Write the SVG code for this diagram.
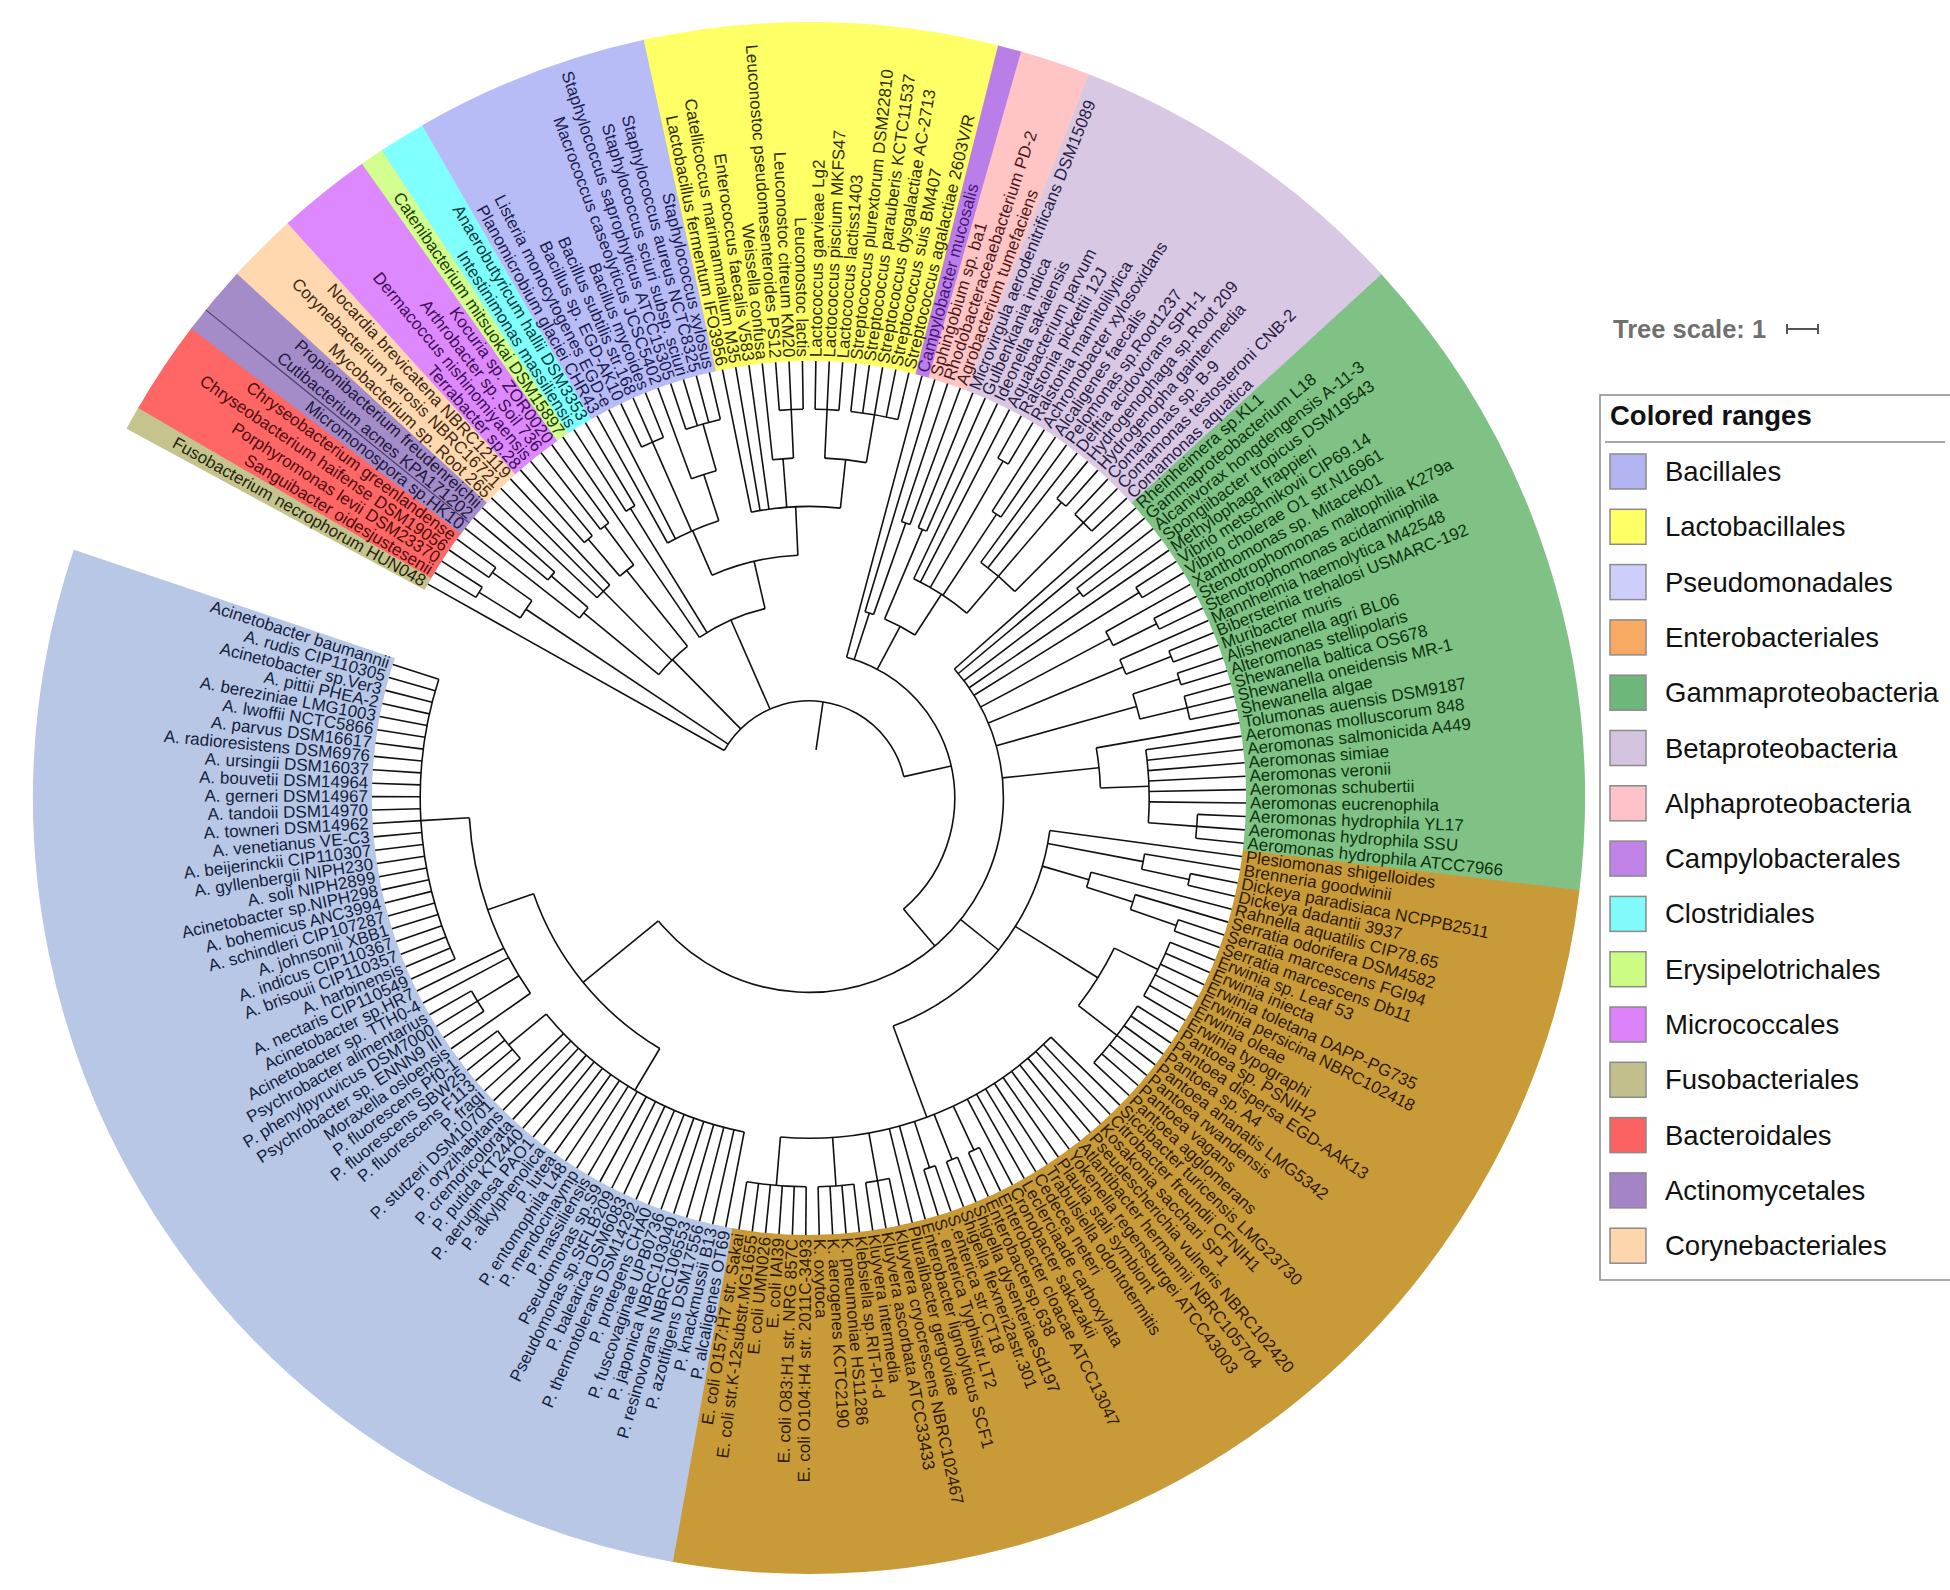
<svg xmlns="http://www.w3.org/2000/svg" width="1950" height="1590" viewBox="0 0 1950 1590">
<defs>
<line id="p2" x1="97.2" x2="437"/>
<line id="p3" x1="145.8" x2="437"/>
<line id="p4" x1="194.4" x2="437"/>
<line id="p5" x1="243" x2="437"/>
<line id="p6" x1="291.6" x2="437"/>
<line id="p7" x1="340.2" x2="437"/>
<line id="p8" x1="388.8" x2="437"/>
</defs>
<style>
text{font-family:"Liberation Sans",Arial,Helvetica,sans-serif}
#labels text{font-size:17px;dominant-baseline:central}
.L{text-anchor:end}
#connectors{fill:none;stroke:#111;stroke-width:1.6}
#ranges circle{fill:none;stroke-width:339}
.fu{fill:#26260e}.bd{fill:#4d0d0d}.ac{fill:#22183d}.co{fill:#3d2a14}.mi{fill:#3d0d52}.er{fill:#203d00}.cl{fill:#003d3d}.ba{fill:#1c1c50}.la{fill:#2e2e00}.ca{fill:#4a1478}.al{fill:#4d1a1a}.be{fill:#2a1e45}.ga{fill:#0d330f}.en{fill:#2e1c00}.ps{fill:#141e3d}
.lg text{font-size:27.5px;fill:#111;dominant-baseline:central}
.lg rect{stroke:#8a8a8a;stroke-width:1.5}
</style>
<rect width="1950" height="1590" fill="#fff"/>
<g id="ranges" transform="translate(809,798)">
<circle r="606.5" pathLength="360" stroke-dasharray="1.86 360" transform="rotate(208.42)" stroke="#c5c48f"/>
<circle r="606.5" pathLength="360" stroke-dasharray="7.14 360" transform="rotate(210.18)" stroke="#ff6666"/>
<circle r="606.5" pathLength="360" stroke-dasharray="5.38 360" transform="rotate(217.22)" stroke="#a48cc9"/>
<circle r="606.5" pathLength="360" stroke-dasharray="5.38 360" transform="rotate(222.5)" stroke="#ffd8b0"/>
<circle r="606.5" pathLength="360" stroke-dasharray="7.14 360" transform="rotate(227.78)" stroke="#dd88ff"/>
<circle r="606.5" pathLength="360" stroke-dasharray="1.86 360" transform="rotate(234.82)" stroke="#d2ff8e"/>
<circle r="606.5" pathLength="360" stroke-dasharray="3.62 360" transform="rotate(236.58)" stroke="#80ffff"/>
<circle r="606.5" pathLength="360" stroke-dasharray="17.7 360" transform="rotate(240.1)" stroke="#b8bcf6"/>
<circle r="606.5" pathLength="360" stroke-dasharray="26.5 360" transform="rotate(257.7)" stroke="#ffff66"/>
<circle r="606.5" pathLength="360" stroke-dasharray="1.86 360" transform="rotate(284.1)" stroke="#b97ee8"/>
<circle r="606.5" pathLength="360" stroke-dasharray="5.38 360" transform="rotate(285.86)" stroke="#ffc4c4"/>
<circle r="606.5" pathLength="360" stroke-dasharray="26.5 360" transform="rotate(291.14)" stroke="#d8c8e4"/>
<circle r="606.5" pathLength="360" stroke-dasharray="49.38 360" transform="rotate(317.54)" stroke="#80c285"/>
<circle r="606.5" pathLength="360" stroke-dasharray="93.38 360" transform="rotate(366.82)" stroke="#c99b38"/>
<circle r="606.5" pathLength="360" stroke-dasharray="98.56 360" transform="rotate(460.1)" stroke="#b8c7e6"/>
<line x1="437" x2="776" transform="rotate(218.98)" stroke="#4d4270" stroke-width="1.2"/>
</g>
<g id="connectors" transform="translate(809,798)">
<line x1="48.6" x2="97.2" transform="rotate(278.3)"/>
<line x1="97.2" x2="340.2" transform="rotate(213.7)"/>
<line x1="340.2" x2="388.8" transform="rotate(211.94)"/>
<line x1="340.2" x2="388.8" transform="rotate(215.46)"/>
<line x1="97.2" x2="194.4" transform="rotate(225.36)"/>
<line x1="194.4" x2="291.6" transform="rotate(219.42)"/>
<line x1="291.6" x2="340.2" transform="rotate(220.74)"/>
<line x1="194.4" x2="291.6" transform="rotate(225.14)"/>
<line x1="194.4" x2="291.6" transform="rotate(231.3)"/>
<line x1="291.6" x2="340.2" transform="rotate(229.54)"/>
<line x1="291.6" x2="340.2" transform="rotate(233.06)"/>
<line x1="97.2" x2="194.4" transform="rotate(246.32)"/>
<line x1="194.4" x2="340.2" transform="rotate(238.34)"/>
<line x1="194.4" x2="243" transform="rotate(256.93)"/>
<line x1="243" x2="291.6" transform="rotate(246.48)"/>
<line x1="291.6" x2="388.8" transform="rotate(246.26)"/>
<line x1="291.6" x2="340.2" transform="rotate(251.98)"/>
<line x1="340.2" x2="388.8" transform="rotate(254.18)"/>
<line x1="243" x2="291.6" transform="rotate(267.38)"/>
<line x1="291.6" x2="340.2" transform="rotate(265.62)"/>
<line x1="340.2" x2="388.8" transform="rotate(267.38)"/>
<line x1="291.6" x2="340.2" transform="rotate(276.18)"/>
<line x1="340.2" x2="388.8" transform="rotate(272.66)"/>
<line x1="340.2" x2="388.8" transform="rotate(279.7)"/>
<line x1="97.2" x2="145.8" transform="rotate(347.3)"/>
<line x1="145.8" x2="194.4" transform="rotate(288.06)"/>
<line x1="194.4" x2="291.6" transform="rotate(289.38)"/>
<line x1="145.8" x2="194.4" transform="rotate(297.96)"/>
<line x1="194.4" x2="291.6" transform="rotate(292.9)"/>
<line x1="194.4" x2="243" transform="rotate(303.02)"/>
<line x1="243" x2="388.8" transform="rotate(299.94)"/>
<line x1="243" x2="340.2" transform="rotate(303.46)"/>
<line x1="243" x2="388.8" transform="rotate(310.5)"/>
<line x1="291.6" x2="388.8" transform="rotate(314.9)"/>
<line x1="145.8" x2="194.4" transform="rotate(409.61)"/>
<line x1="194.4" x2="340.2" transform="rotate(322.82)"/>
<line x1="194.4" x2="388.8" transform="rotate(328.1)"/>
<line x1="194.4" x2="340.2" transform="rotate(332.06)"/>
<line x1="340.2" x2="388.8" transform="rotate(333.38)"/>
<line x1="194.4" x2="340.2" transform="rotate(337.34)"/>
<line x1="340.2" x2="388.8" transform="rotate(338.66)"/>
<line x1="194.4" x2="340.2" transform="rotate(344.38)"/>
<line x1="340.2" x2="388.8" transform="rotate(342.18)"/>
<line x1="340.2" x2="388.8" transform="rotate(346.58)"/>
<line x1="194.4" x2="291.6" transform="rotate(354.06)"/>
<line x1="291.6" x2="340.2" transform="rotate(358.02)"/>
<line x1="340.2" x2="388.8" transform="rotate(364.18)"/>
<line x1="194.4" x2="243" transform="rotate(398.72)"/>
<line x1="243" x2="340.2" transform="rotate(370.78)"/>
<line x1="340.2" x2="388.8" transform="rotate(372.1)"/>
<line x1="243" x2="291.6" transform="rotate(376.28)"/>
<line x1="291.6" x2="340.2" transform="rotate(377.82)"/>
<line x1="340.2" x2="388.8" transform="rotate(379.14)"/>
<line x1="243" x2="340.2" transform="rotate(391.9)"/>
<line x1="340.2" x2="388.8" transform="rotate(386.18)"/>
<line x1="340.2" x2="388.8" transform="rotate(397.62)"/>
<line x1="243" x2="340.2" transform="rotate(429.74)"/>
<line x1="340.2" x2="388.8" transform="rotate(424.9)"/>
<line x1="340.2" x2="388.8" transform="rotate(428.42)"/>
<line x1="340.2" x2="388.8" transform="rotate(431.94)"/>
<line x1="340.2" x2="388.8" transform="rotate(439.86)"/>
<line x1="340.2" x2="388.8" transform="rotate(446.02)"/>
<line x1="340.2" x2="388.8" transform="rotate(454.82)"/>
<line x1="194.4" x2="291.6" transform="rotate(500.8)"/>
<line x1="291.6" x2="340.2" transform="rotate(480.78)"/>
<line x1="340.2" x2="388.8" transform="rotate(500.58)"/>
<line x1="291.6" x2="340.2" transform="rotate(520.82)"/>
<line x1="340.2" x2="388.8" transform="rotate(508.5)"/>
<line x1="340.2" x2="388.8" transform="rotate(536.66)"/>
<circle r="97.2" pathLength="360" stroke-dasharray="138 360" transform="rotate(209.3)"/>
<circle r="340.2" pathLength="360" stroke-dasharray="3.52 360" transform="rotate(211.94)"/>
<circle r="388.8" pathLength="360" stroke-dasharray="1.76 360" transform="rotate(211.06)"/>
<circle r="388.8" pathLength="360" stroke-dasharray="1.76 360" transform="rotate(214.58)"/>
<circle r="194.4" pathLength="360" stroke-dasharray="11.88 360" transform="rotate(219.42)"/>
<circle r="291.6" pathLength="360" stroke-dasharray="2.64 360" transform="rotate(218.1)"/>
<circle r="340.2" pathLength="360" stroke-dasharray="1.76 360" transform="rotate(219.86)"/>
<circle r="291.6" pathLength="360" stroke-dasharray="3.52 360" transform="rotate(223.38)"/>
<circle r="291.6" pathLength="360" stroke-dasharray="3.52 360" transform="rotate(229.54)"/>
<circle r="340.2" pathLength="360" stroke-dasharray="1.76 360" transform="rotate(228.66)"/>
<circle r="340.2" pathLength="360" stroke-dasharray="1.76 360" transform="rotate(232.18)"/>
<circle r="194.4" pathLength="360" stroke-dasharray="21.23 360" transform="rotate(235.7)"/>
<circle r="340.2" pathLength="360" stroke-dasharray="1.76 360" transform="rotate(237.46)"/>
<circle r="243" pathLength="360" stroke-dasharray="20.9 360" transform="rotate(246.48)"/>
<circle r="291.6" pathLength="360" stroke-dasharray="11 360" transform="rotate(240.98)"/>
<circle r="388.8" pathLength="360" stroke-dasharray="3.52 360" transform="rotate(244.5)"/>
<circle r="340.2" pathLength="360" stroke-dasharray="4.4 360" transform="rotate(249.78)"/>
<circle r="388.8" pathLength="360" stroke-dasharray="5.28 360" transform="rotate(251.54)"/>
<circle r="291.6" pathLength="360" stroke-dasharray="17.6 360" transform="rotate(258.58)"/>
<circle r="340.2" pathLength="360" stroke-dasharray="3.52 360" transform="rotate(263.86)"/>
<circle r="388.8" pathLength="360" stroke-dasharray="3.52 360" transform="rotate(265.62)"/>
<circle r="340.2" pathLength="360" stroke-dasharray="7.04 360" transform="rotate(272.66)"/>
<circle r="388.8" pathLength="360" stroke-dasharray="3.52 360" transform="rotate(270.9)"/>
<circle r="388.8" pathLength="360" stroke-dasharray="7.04 360" transform="rotate(276.18)"/>
<circle r="145.8" pathLength="360" stroke-dasharray="124.63 360" transform="rotate(284.98)"/>
<circle r="194.4" pathLength="360" stroke-dasharray="2.64 360" transform="rotate(286.74)"/>
<circle r="291.6" pathLength="360" stroke-dasharray="1.76 360" transform="rotate(288.5)"/>
<circle r="194.4" pathLength="360" stroke-dasharray="10.12 360" transform="rotate(292.9)"/>
<circle r="291.6" pathLength="360" stroke-dasharray="1.76 360" transform="rotate(292.02)"/>
<circle r="243" pathLength="360" stroke-dasharray="14.96 360" transform="rotate(295.54)"/>
<circle r="388.8" pathLength="360" stroke-dasharray="1.76 360" transform="rotate(299.06)"/>
<circle r="340.2" pathLength="360" stroke-dasharray="1.76 360" transform="rotate(302.58)"/>
<circle r="291.6" pathLength="360" stroke-dasharray="8.8 360" transform="rotate(306.1)"/>
<circle r="388.8" pathLength="360" stroke-dasharray="1.76 360" transform="rotate(309.62)"/>
<circle r="388.8" pathLength="360" stroke-dasharray="3.52 360" transform="rotate(313.14)"/>
<circle r="194.4" pathLength="360" stroke-dasharray="182.38 360" transform="rotate(318.42)"/>
<circle r="340.2" pathLength="360" stroke-dasharray="1.76 360" transform="rotate(321.94)"/>
<circle r="388.8" pathLength="360" stroke-dasharray="1.76 360" transform="rotate(327.22)"/>
<circle r="340.2" pathLength="360" stroke-dasharray="2.64 360" transform="rotate(330.74)"/>
<circle r="388.8" pathLength="360" stroke-dasharray="1.76 360" transform="rotate(332.5)"/>
<circle r="340.2" pathLength="360" stroke-dasharray="2.64 360" transform="rotate(336.02)"/>
<circle r="388.8" pathLength="360" stroke-dasharray="1.76 360" transform="rotate(337.78)"/>
<circle r="340.2" pathLength="360" stroke-dasharray="4.4 360" transform="rotate(342.18)"/>
<circle r="388.8" pathLength="360" stroke-dasharray="1.76 360" transform="rotate(341.3)"/>
<circle r="388.8" pathLength="360" stroke-dasharray="3.52 360" transform="rotate(344.82)"/>
<circle r="291.6" pathLength="360" stroke-dasharray="7.92 360" transform="rotate(350.1)"/>
<circle r="340.2" pathLength="360" stroke-dasharray="12.32 360" transform="rotate(351.86)"/>
<circle r="388.8" pathLength="360" stroke-dasharray="3.52 360" transform="rotate(362.42)"/>
<circle r="243" pathLength="360" stroke-dasharray="62.04 360" transform="rotate(367.7)"/>
<circle r="340.2" pathLength="360" stroke-dasharray="2.64 360" transform="rotate(369.46)"/>
<circle r="388.8" pathLength="360" stroke-dasharray="1.76 360" transform="rotate(371.22)"/>
<circle r="291.6" pathLength="360" stroke-dasharray="3.08 360" transform="rotate(374.74)"/>
<circle r="340.2" pathLength="360" stroke-dasharray="2.64 360" transform="rotate(376.5)"/>
<circle r="388.8" pathLength="360" stroke-dasharray="1.76 360" transform="rotate(378.26)"/>
<circle r="340.2" pathLength="360" stroke-dasharray="11.44 360" transform="rotate(386.18)"/>
<circle r="388.8" pathLength="360" stroke-dasharray="8.8 360" transform="rotate(381.78)"/>
<circle r="388.8" pathLength="360" stroke-dasharray="10.56 360" transform="rotate(392.34)"/>
<circle r="340.2" pathLength="360" stroke-dasharray="50.16 360" transform="rotate(404.66)"/>
<circle r="388.8" pathLength="360" stroke-dasharray="1.76 360" transform="rotate(424.02)"/>
<circle r="388.8" pathLength="360" stroke-dasharray="1.76 360" transform="rotate(427.54)"/>
<circle r="388.8" pathLength="360" stroke-dasharray="1.76 360" transform="rotate(431.06)"/>
<circle r="388.8" pathLength="360" stroke-dasharray="3.52 360" transform="rotate(438.1)"/>
<circle r="388.8" pathLength="360" stroke-dasharray="5.28 360" transform="rotate(443.38)"/>
<circle r="388.8" pathLength="360" stroke-dasharray="8.8 360" transform="rotate(450.42)"/>
<circle r="291.6" pathLength="360" stroke-dasharray="40.04 360" transform="rotate(480.78)"/>
<circle r="340.2" pathLength="360" stroke-dasharray="39.6 360" transform="rotate(460.98)"/>
<circle r="388.8" pathLength="360" stroke-dasharray="5.28 360" transform="rotate(497.94)"/>
<circle r="340.2" pathLength="360" stroke-dasharray="31.68 360" transform="rotate(504.98)"/>
<circle r="388.8" pathLength="360" stroke-dasharray="3.52 360" transform="rotate(506.74)"/>
<circle r="388.8" pathLength="360" stroke-dasharray="42.24 360" transform="rotate(515.54)"/>
<use href="#p2" transform="rotate(209.3)"/>
<use href="#p8" transform="rotate(211.06)"/>
<use href="#p8" transform="rotate(212.82)"/>
<use href="#p8" transform="rotate(214.58)"/>
<use href="#p8" transform="rotate(216.34)"/>
<use href="#p6" transform="rotate(218.1)"/>
<use href="#p7" transform="rotate(219.86)"/>
<use href="#p7" transform="rotate(221.62)"/>
<use href="#p6" transform="rotate(223.38)"/>
<use href="#p6" transform="rotate(225.14)"/>
<use href="#p6" transform="rotate(226.9)"/>
<use href="#p7" transform="rotate(228.66)"/>
<use href="#p7" transform="rotate(230.42)"/>
<use href="#p7" transform="rotate(232.18)"/>
<use href="#p7" transform="rotate(233.94)"/>
<use href="#p4" transform="rotate(235.7)"/>
<use href="#p7" transform="rotate(237.46)"/>
<use href="#p7" transform="rotate(239.22)"/>
<use href="#p6" transform="rotate(240.98)"/>
<use href="#p6" transform="rotate(242.74)"/>
<use href="#p8" transform="rotate(244.5)"/>
<use href="#p8" transform="rotate(246.26)"/>
<use href="#p8" transform="rotate(248.02)"/>
<use href="#p7" transform="rotate(249.78)"/>
<use href="#p8" transform="rotate(251.54)"/>
<use href="#p8" transform="rotate(253.3)"/>
<use href="#p8" transform="rotate(255.06)"/>
<use href="#p8" transform="rotate(256.82)"/>
<use href="#p6" transform="rotate(258.58)"/>
<use href="#p6" transform="rotate(260.34)"/>
<use href="#p6" transform="rotate(262.1)"/>
<use href="#p7" transform="rotate(263.86)"/>
<use href="#p8" transform="rotate(265.62)"/>
<use href="#p8" transform="rotate(267.38)"/>
<use href="#p8" transform="rotate(269.14)"/>
<use href="#p8" transform="rotate(270.9)"/>
<use href="#p8" transform="rotate(272.66)"/>
<use href="#p8" transform="rotate(274.42)"/>
<use href="#p8" transform="rotate(276.18)"/>
<use href="#p8" transform="rotate(277.94)"/>
<use href="#p8" transform="rotate(279.7)"/>
<use href="#p8" transform="rotate(281.46)"/>
<use href="#p8" transform="rotate(283.22)"/>
<use href="#p3" transform="rotate(284.98)"/>
<use href="#p4" transform="rotate(286.74)"/>
<use href="#p6" transform="rotate(288.5)"/>
<use href="#p6" transform="rotate(290.26)"/>
<use href="#p6" transform="rotate(292.02)"/>
<use href="#p6" transform="rotate(293.78)"/>
<use href="#p5" transform="rotate(295.54)"/>
<use href="#p5" transform="rotate(297.3)"/>
<use href="#p8" transform="rotate(299.06)"/>
<use href="#p8" transform="rotate(300.82)"/>
<use href="#p7" transform="rotate(302.58)"/>
<use href="#p7" transform="rotate(304.34)"/>
<use href="#p6" transform="rotate(306.1)"/>
<use href="#p6" transform="rotate(307.86)"/>
<use href="#p8" transform="rotate(309.62)"/>
<use href="#p8" transform="rotate(311.38)"/>
<use href="#p8" transform="rotate(313.14)"/>
<use href="#p8" transform="rotate(314.9)"/>
<use href="#p8" transform="rotate(316.66)"/>
<use href="#p4" transform="rotate(318.42)"/>
<use href="#p4" transform="rotate(320.18)"/>
<use href="#p7" transform="rotate(321.94)"/>
<use href="#p7" transform="rotate(323.7)"/>
<use href="#p4" transform="rotate(325.46)"/>
<use href="#p8" transform="rotate(327.22)"/>
<use href="#p8" transform="rotate(328.98)"/>
<use href="#p7" transform="rotate(330.74)"/>
<use href="#p8" transform="rotate(332.5)"/>
<use href="#p8" transform="rotate(334.26)"/>
<use href="#p7" transform="rotate(336.02)"/>
<use href="#p8" transform="rotate(337.78)"/>
<use href="#p8" transform="rotate(339.54)"/>
<use href="#p8" transform="rotate(341.3)"/>
<use href="#p8" transform="rotate(343.06)"/>
<use href="#p8" transform="rotate(344.82)"/>
<use href="#p8" transform="rotate(346.58)"/>
<use href="#p8" transform="rotate(348.34)"/>
<use href="#p6" transform="rotate(350.1)"/>
<use href="#p7" transform="rotate(351.86)"/>
<use href="#p7" transform="rotate(353.62)"/>
<use href="#p7" transform="rotate(355.38)"/>
<use href="#p7" transform="rotate(357.14)"/>
<use href="#p7" transform="rotate(358.9)"/>
<use href="#p7" transform="rotate(360.66)"/>
<use href="#p8" transform="rotate(362.42)"/>
<use href="#p8" transform="rotate(364.18)"/>
<use href="#p8" transform="rotate(365.94)"/>
<use href="#p5" transform="rotate(367.7)"/>
<use href="#p7" transform="rotate(369.46)"/>
<use href="#p8" transform="rotate(371.22)"/>
<use href="#p8" transform="rotate(372.98)"/>
<use href="#p6" transform="rotate(374.74)"/>
<use href="#p7" transform="rotate(376.5)"/>
<use href="#p8" transform="rotate(378.26)"/>
<use href="#p8" transform="rotate(380.02)"/>
<use href="#p8" transform="rotate(381.78)"/>
<use href="#p8" transform="rotate(383.54)"/>
<use href="#p8" transform="rotate(385.3)"/>
<use href="#p8" transform="rotate(387.06)"/>
<use href="#p8" transform="rotate(388.82)"/>
<use href="#p8" transform="rotate(390.58)"/>
<use href="#p8" transform="rotate(392.34)"/>
<use href="#p8" transform="rotate(394.1)"/>
<use href="#p8" transform="rotate(395.86)"/>
<use href="#p8" transform="rotate(397.62)"/>
<use href="#p8" transform="rotate(399.38)"/>
<use href="#p8" transform="rotate(401.14)"/>
<use href="#p8" transform="rotate(402.9)"/>
<use href="#p7" transform="rotate(404.66)"/>
<use href="#p7" transform="rotate(406.42)"/>
<use href="#p7" transform="rotate(408.18)"/>
<use href="#p7" transform="rotate(409.94)"/>
<use href="#p7" transform="rotate(411.7)"/>
<use href="#p7" transform="rotate(413.46)"/>
<use href="#p7" transform="rotate(415.22)"/>
<use href="#p7" transform="rotate(416.98)"/>
<use href="#p7" transform="rotate(418.74)"/>
<use href="#p7" transform="rotate(420.5)"/>
<use href="#p7" transform="rotate(422.26)"/>
<use href="#p8" transform="rotate(424.02)"/>
<use href="#p8" transform="rotate(425.78)"/>
<use href="#p8" transform="rotate(427.54)"/>
<use href="#p8" transform="rotate(429.3)"/>
<use href="#p8" transform="rotate(431.06)"/>
<use href="#p8" transform="rotate(432.82)"/>
<use href="#p7" transform="rotate(434.58)"/>
<use href="#p7" transform="rotate(436.34)"/>
<use href="#p8" transform="rotate(438.1)"/>
<use href="#p8" transform="rotate(439.86)"/>
<use href="#p8" transform="rotate(441.62)"/>
<use href="#p8" transform="rotate(443.38)"/>
<use href="#p8" transform="rotate(445.14)"/>
<use href="#p8" transform="rotate(446.9)"/>
<use href="#p8" transform="rotate(448.66)"/>
<use href="#p8" transform="rotate(450.42)"/>
<use href="#p8" transform="rotate(452.18)"/>
<use href="#p8" transform="rotate(453.94)"/>
<use href="#p8" transform="rotate(455.7)"/>
<use href="#p8" transform="rotate(457.46)"/>
<use href="#p8" transform="rotate(459.22)"/>
<use href="#p7" transform="rotate(460.98)"/>
<use href="#p7" transform="rotate(462.74)"/>
<use href="#p7" transform="rotate(464.5)"/>
<use href="#p7" transform="rotate(466.26)"/>
<use href="#p7" transform="rotate(468.02)"/>
<use href="#p7" transform="rotate(469.78)"/>
<use href="#p7" transform="rotate(471.54)"/>
<use href="#p7" transform="rotate(473.3)"/>
<use href="#p7" transform="rotate(475.06)"/>
<use href="#p7" transform="rotate(476.82)"/>
<use href="#p7" transform="rotate(478.58)"/>
<use href="#p7" transform="rotate(480.34)"/>
<use href="#p7" transform="rotate(482.1)"/>
<use href="#p7" transform="rotate(483.86)"/>
<use href="#p7" transform="rotate(485.62)"/>
<use href="#p7" transform="rotate(487.38)"/>
<use href="#p7" transform="rotate(489.14)"/>
<use href="#p7" transform="rotate(490.9)"/>
<use href="#p7" transform="rotate(492.66)"/>
<use href="#p7" transform="rotate(494.42)"/>
<use href="#p7" transform="rotate(496.18)"/>
<use href="#p8" transform="rotate(497.94)"/>
<use href="#p8" transform="rotate(499.7)"/>
<use href="#p8" transform="rotate(501.46)"/>
<use href="#p8" transform="rotate(503.22)"/>
<use href="#p7" transform="rotate(504.98)"/>
<use href="#p8" transform="rotate(506.74)"/>
<use href="#p8" transform="rotate(508.5)"/>
<use href="#p8" transform="rotate(510.26)"/>
<use href="#p7" transform="rotate(512.02)"/>
<use href="#p7" transform="rotate(513.78)"/>
<use href="#p8" transform="rotate(515.54)"/>
<use href="#p8" transform="rotate(517.3)"/>
<use href="#p8" transform="rotate(519.06)"/>
<use href="#p8" transform="rotate(520.82)"/>
<use href="#p8" transform="rotate(522.58)"/>
<use href="#p8" transform="rotate(524.34)"/>
<use href="#p8" transform="rotate(526.1)"/>
<use href="#p8" transform="rotate(527.86)"/>
<use href="#p8" transform="rotate(529.62)"/>
<use href="#p8" transform="rotate(531.38)"/>
<use href="#p8" transform="rotate(533.14)"/>
<use href="#p8" transform="rotate(534.9)"/>
<use href="#p8" transform="rotate(536.66)"/>
<use href="#p8" transform="rotate(538.42)"/>
<use href="#p8" transform="rotate(540.18)"/>
<use href="#p8" transform="rotate(541.94)"/>
<use href="#p8" transform="rotate(543.7)"/>
<use href="#p8" transform="rotate(545.46)"/>
<use href="#p8" transform="rotate(547.22)"/>
<use href="#p8" transform="rotate(548.98)"/>
<use href="#p8" transform="rotate(550.74)"/>
<use href="#p8" transform="rotate(552.5)"/>
<use href="#p8" transform="rotate(554.26)"/>
<use href="#p8" transform="rotate(556.02)"/>
<use href="#p8" transform="rotate(557.78)"/>
</g>
<g id="labels" transform="translate(809,798)">
<g id="leaf-1" transform="rotate(29.3)"><text class="L fu" x="-441">Fusobacterium necrophorum HUN048</text></g>
<g id="leaf-2" transform="rotate(31.06)"><text class="L bd" x="-441">Sanguibacter oidesjustesenii</text></g>
<g id="leaf-3" transform="rotate(32.82)"><text class="L bd" x="-441">Porphyromonas levii DSM23370</text></g>
<g id="leaf-4" transform="rotate(34.58)"><text class="L bd" x="-441">Chryseobacterium haifense DSM19056</text></g>
<g id="leaf-5" transform="rotate(36.34)"><text class="L bd" x="-441">Chryseobacterium greenlandense</text></g>
<g id="leaf-6" transform="rotate(38.1)"><text class="L ac" x="-441">Micromonospora sp.HK10</text></g>
<g id="leaf-7" transform="rotate(39.86)"><text class="L ac" x="-441">Cutibacterium acnes KPA171202</text></g>
<g id="leaf-8" transform="rotate(41.62)"><text class="L ac" x="-441">Propionibacterium freudenreichii</text></g>
<g id="leaf-9" transform="rotate(43.38)"><text class="L co" x="-441">Mycobacterium sp. Root 265</text></g>
<g id="leaf-10" transform="rotate(45.14)"><text class="L co" x="-441">Corynebacterium xerosis NBRC16721</text></g>
<g id="leaf-11" transform="rotate(46.9)"><text class="L co" x="-441">Nocardia brevicatena NBRC12119</text></g>
<g id="leaf-12" transform="rotate(48.66)"><text class="L mi" x="-441">Terrabacter sp.28</text></g>
<g id="leaf-13" transform="rotate(50.42)"><text class="L mi" x="-441">Dermacoccus nishinomiyaensis</text></g>
<g id="leaf-14" transform="rotate(52.18)"><text class="L mi" x="-441">Arthrobacter sp. Soil 736</text></g>
<g id="leaf-15" transform="rotate(53.94)"><text class="L mi" x="-441">Kocuria sp. ZOR0020</text></g>
<g id="leaf-16" transform="rotate(55.7)"><text class="L er" x="-441">Catenibacterium mitsuokai DSM15897</text></g>
<g id="leaf-17" transform="rotate(57.46)"><text class="L cl" x="-441">Intestinimonas massiliensis</text></g>
<g id="leaf-18" transform="rotate(59.22)"><text class="L cl" x="-441">Anaerobutyricum hallii DSM3353</text></g>
<g id="leaf-19" transform="rotate(60.98)"><text class="L ba" x="-441">Planomicrobium glaciei CHR43</text></g>
<g id="leaf-20" transform="rotate(62.74)"><text class="L ba" x="-441">Listeria monocytogenes EGD-e</text></g>
<g id="leaf-21" transform="rotate(64.5)"><text class="L ba" x="-441">Bacillus sp. EGD-AK10</text></g>
<g id="leaf-22" transform="rotate(66.26)"><text class="L ba" x="-441">Bacillus subtilis str.168</text></g>
<g id="leaf-23" transform="rotate(68.02)"><text class="L ba" x="-441">Bacillus mycoides</text></g>
<g id="leaf-24" transform="rotate(69.78)"><text class="L ba" x="-441">Macrococcus caseolyticus JCSC5402</text></g>
<g id="leaf-25" transform="rotate(71.54)"><text class="L ba" x="-441">Staphylococcus saprophyticus ATCC15305</text></g>
<g id="leaf-26" transform="rotate(73.3)"><text class="L ba" x="-441">Staphylococcus sciuri subsp. sciuri</text></g>
<g id="leaf-27" transform="rotate(75.06)"><text class="L ba" x="-441">Staphylococcus aureus NCTC8325</text></g>
<g id="leaf-28" transform="rotate(76.82)"><text class="L ba" x="-441">Staphylococcus xylosus</text></g>
<g id="leaf-29" transform="rotate(78.58)"><text class="L la" x="-441">Lactobacillus fermentum IFO3956</text></g>
<g id="leaf-30" transform="rotate(80.34)"><text class="L la" x="-441">Catellicoccus marimammalium M35</text></g>
<g id="leaf-31" transform="rotate(82.1)"><text class="L la" x="-441">Enterococcus faecalis V583</text></g>
<g id="leaf-32" transform="rotate(83.86)"><text class="L la" x="-441">Weissella confusa</text></g>
<g id="leaf-33" transform="rotate(85.62)"><text class="L la" x="-441">Leuconostoc pseudomesenteroides PS12</text></g>
<g id="leaf-34" transform="rotate(87.38)"><text class="L la" x="-441">Leuconostoc citreum KM20</text></g>
<g id="leaf-35" transform="rotate(89.14)"><text class="L la" x="-441">Leuconostoc lactis</text></g>
<g id="leaf-36" transform="rotate(270.9)"><text class="la" x="441">Lactococcus garvieae Lg2</text></g>
<g id="leaf-37" transform="rotate(272.66)"><text class="la" x="441">Lactococcus piscium MKFS47</text></g>
<g id="leaf-38" transform="rotate(274.42)"><text class="la" x="441">Lactococcus lactiss1403</text></g>
<g id="leaf-39" transform="rotate(276.18)"><text class="la" x="441">Streptococcus plurextorum DSM22810</text></g>
<g id="leaf-40" transform="rotate(277.94)"><text class="la" x="441">Streptococcus parauberis KCTC11537</text></g>
<g id="leaf-41" transform="rotate(279.7)"><text class="la" x="441">Streptococcus dysgalactiae AC-2713</text></g>
<g id="leaf-42" transform="rotate(281.46)"><text class="la" x="441">Streptococcus suis BM407</text></g>
<g id="leaf-43" transform="rotate(283.22)"><text class="la" x="441">Streptococcus agalactiae 2603V/R</text></g>
<g id="leaf-44" transform="rotate(284.98)"><text class="ca" x="441">Campylobacter mucosalis</text></g>
<g id="leaf-45" transform="rotate(286.74)"><text class="al" x="441">Sphingobium sp. ba1</text></g>
<g id="leaf-46" transform="rotate(288.5)"><text class="al" x="441">Rhodobacteraceaebacterium PD-2</text></g>
<g id="leaf-47" transform="rotate(290.26)"><text class="al" x="441">Agrobacterium tumefaciens</text></g>
<g id="leaf-48" transform="rotate(292.02)"><text class="be" x="441">Microvirgula aerodenitrificans DSM15089</text></g>
<g id="leaf-49" transform="rotate(293.78)"><text class="be" x="441">Gulbenkiania indica</text></g>
<g id="leaf-50" transform="rotate(295.54)"><text class="be" x="441">Ideonella sakaiensis</text></g>
<g id="leaf-51" transform="rotate(297.3)"><text class="be" x="441">Aquabacterium parvum</text></g>
<g id="leaf-52" transform="rotate(299.06)"><text class="be" x="441">Ralstonia pickettii 12J</text></g>
<g id="leaf-53" transform="rotate(300.82)"><text class="be" x="441">Ralstonia mannitolilytica</text></g>
<g id="leaf-54" transform="rotate(302.58)"><text class="be" x="441">Achromobacter xylosoxidans</text></g>
<g id="leaf-55" transform="rotate(304.34)"><text class="be" x="441">Alcaligenes faecalis</text></g>
<g id="leaf-56" transform="rotate(306.1)"><text class="be" x="441">Pelomonas sp.Root1237</text></g>
<g id="leaf-57" transform="rotate(307.86)"><text class="be" x="441">Delftia acidovorans SPH-1</text></g>
<g id="leaf-58" transform="rotate(309.62)"><text class="be" x="441">Hydrogenophaga sp.Root 209</text></g>
<g id="leaf-59" transform="rotate(311.38)"><text class="be" x="441">Hydrogenopha gaintermedia</text></g>
<g id="leaf-60" transform="rotate(313.14)"><text class="be" x="441">Comamonas sp. B-9</text></g>
<g id="leaf-61" transform="rotate(314.9)"><text class="be" x="441">Comamonas testosteroni CNB-2</text></g>
<g id="leaf-62" transform="rotate(316.66)"><text class="be" x="441">Comamonas aquatica</text></g>
<g id="leaf-63" transform="rotate(318.42)"><text class="ga" x="441">Rheinheimera sp.KL1</text></g>
<g id="leaf-64" transform="rotate(320.18)"><text class="ga" x="441">Gammaproteobacterium L18</text></g>
<g id="leaf-65" transform="rotate(321.94)"><text class="ga" x="441">Alcanivorax hongdengensis A-11-3</text></g>
<g id="leaf-66" transform="rotate(323.7)"><text class="ga" x="441">Spongiibacter tropicus DSM19543</text></g>
<g id="leaf-67" transform="rotate(325.46)"><text class="ga" x="441">Methylophaga frappieri</text></g>
<g id="leaf-68" transform="rotate(327.22)"><text class="ga" x="441">Vibrio metschnikovii CIP69.14</text></g>
<g id="leaf-69" transform="rotate(328.98)"><text class="ga" x="441">Vibrio cholerae O1 str.N16961</text></g>
<g id="leaf-70" transform="rotate(330.74)"><text class="ga" x="441">Xanthomonas sp. Mitacek01</text></g>
<g id="leaf-71" transform="rotate(332.5)"><text class="ga" x="441">Stenotrophomonas maltophilia K279a</text></g>
<g id="leaf-72" transform="rotate(334.26)"><text class="ga" x="441">Stenotrophomonas acidaminiphila</text></g>
<g id="leaf-73" transform="rotate(336.02)"><text class="ga" x="441">Mannheimia haemolytica M42548</text></g>
<g id="leaf-74" transform="rotate(337.78)"><text class="ga" x="441">Bibersteinia trehalosi USMARC-192</text></g>
<g id="leaf-75" transform="rotate(339.54)"><text class="ga" x="441">Muribacter muris</text></g>
<g id="leaf-76" transform="rotate(341.3)"><text class="ga" x="441">Alishewanella agri BL06</text></g>
<g id="leaf-77" transform="rotate(343.06)"><text class="ga" x="441">Alteromonas stellipolaris</text></g>
<g id="leaf-78" transform="rotate(344.82)"><text class="ga" x="441">Shewanella baltica OS678</text></g>
<g id="leaf-79" transform="rotate(346.58)"><text class="ga" x="441">Shewanella oneidensis MR-1</text></g>
<g id="leaf-80" transform="rotate(348.34)"><text class="ga" x="441">Shewanella algae</text></g>
<g id="leaf-81" transform="rotate(350.1)"><text class="ga" x="441">Tolumonas auensis DSM9187</text></g>
<g id="leaf-82" transform="rotate(351.86)"><text class="ga" x="441">Aeromonas molluscorum 848</text></g>
<g id="leaf-83" transform="rotate(353.62)"><text class="ga" x="441">Aeromonas salmonicida A449</text></g>
<g id="leaf-84" transform="rotate(355.38)"><text class="ga" x="441">Aeromonas simiae</text></g>
<g id="leaf-85" transform="rotate(357.14)"><text class="ga" x="441">Aeromonas veronii</text></g>
<g id="leaf-86" transform="rotate(358.9)"><text class="ga" x="441">Aeromonas schubertii</text></g>
<g id="leaf-87" transform="rotate(360.66)"><text class="ga" x="441">Aeromonas eucrenophila</text></g>
<g id="leaf-88" transform="rotate(362.42)"><text class="ga" x="441">Aeromonas hydrophila YL17</text></g>
<g id="leaf-89" transform="rotate(364.18)"><text class="ga" x="441">Aeromonas hydrophila SSU</text></g>
<g id="leaf-90" transform="rotate(365.94)"><text class="ga" x="441">Aeromonas hydrophila ATCC7966</text></g>
<g id="leaf-91" transform="rotate(367.7)"><text class="en" x="441">Plesiomonas shigelloides</text></g>
<g id="leaf-92" transform="rotate(369.46)"><text class="en" x="441">Brenneria goodwinii</text></g>
<g id="leaf-93" transform="rotate(371.22)"><text class="en" x="441">Dickeya paradisiaca NCPPB2511</text></g>
<g id="leaf-94" transform="rotate(372.98)"><text class="en" x="441">Dickeya dadantii 3937</text></g>
<g id="leaf-95" transform="rotate(374.74)"><text class="en" x="441">Rahnella aquatilis CIP78.65</text></g>
<g id="leaf-96" transform="rotate(376.5)"><text class="en" x="441">Serratia odorifera DSM4582</text></g>
<g id="leaf-97" transform="rotate(378.26)"><text class="en" x="441">Serratia marcescens FGI94</text></g>
<g id="leaf-98" transform="rotate(380.02)"><text class="en" x="441">Serratia marcescens Db11</text></g>
<g id="leaf-99" transform="rotate(381.78)"><text class="en" x="441">Erwinia sp. Leaf 53</text></g>
<g id="leaf-100" transform="rotate(383.54)"><text class="en" x="441">Erwinia iniecta</text></g>
<g id="leaf-101" transform="rotate(385.3)"><text class="en" x="441">Erwinia toletana DAPP-PG735</text></g>
<g id="leaf-102" transform="rotate(387.06)"><text class="en" x="441">Erwinia persicina NBRC102418</text></g>
<g id="leaf-103" transform="rotate(388.82)"><text class="en" x="441">Erwinia oleae</text></g>
<g id="leaf-104" transform="rotate(390.58)"><text class="en" x="441">Erwinia typographi</text></g>
<g id="leaf-105" transform="rotate(392.34)"><text class="en" x="441">Pantoea sp. PSNIH2</text></g>
<g id="leaf-106" transform="rotate(394.1)"><text class="en" x="441">Pantoea dispersa EGD-AAK13</text></g>
<g id="leaf-107" transform="rotate(395.86)"><text class="en" x="441">Pantoea sp. A4</text></g>
<g id="leaf-108" transform="rotate(397.62)"><text class="en" x="441">Pantoea ananatis LMG5342</text></g>
<g id="leaf-109" transform="rotate(399.38)"><text class="en" x="441">Pantoea rwandensis</text></g>
<g id="leaf-110" transform="rotate(401.14)"><text class="en" x="441">Pantoea vagans</text></g>
<g id="leaf-111" transform="rotate(402.9)"><text class="en" x="441">Pantoea agglomerans</text></g>
<g id="leaf-112" transform="rotate(404.66)"><text class="en" x="441">Siccibacter turicensis LMG23730</text></g>
<g id="leaf-113" transform="rotate(406.42)"><text class="en" x="441">Citrobacter freundii CFNIH1</text></g>
<g id="leaf-114" transform="rotate(408.18)"><text class="en" x="441">Kosakonia sacchari SP1</text></g>
<g id="leaf-115" transform="rotate(409.94)"><text class="en" x="441">Pseudescherichia vulneris NBRC102420</text></g>
<g id="leaf-116" transform="rotate(411.7)"><text class="en" x="441">Atlantibacter hermannii NBRC105704</text></g>
<g id="leaf-117" transform="rotate(413.46)"><text class="en" x="441">Yokenella regensburgei ATCC43003</text></g>
<g id="leaf-118" transform="rotate(415.22)"><text class="en" x="441">Plautia stali symbiont</text></g>
<g id="leaf-119" transform="rotate(416.98)"><text class="en" x="441">Trabulsiella odontotermitis</text></g>
<g id="leaf-120" transform="rotate(418.74)"><text class="en" x="441">Cedecea neteri</text></g>
<g id="leaf-121" transform="rotate(420.5)"><text class="en" x="441">Leclerciaade carboxylata</text></g>
<g id="leaf-122" transform="rotate(422.26)"><text class="en" x="441">Cronobacter sakazakii</text></g>
<g id="leaf-123" transform="rotate(424.02)"><text class="en" x="441">Enterobacter cloacae ATCC13047</text></g>
<g id="leaf-124" transform="rotate(425.78)"><text class="en" x="441">Enterobactersp.638</text></g>
<g id="leaf-125" transform="rotate(427.54)"><text class="en" x="441">Shigella dysenteriaeSd197</text></g>
<g id="leaf-126" transform="rotate(429.3)"><text class="en" x="441">Shigella flexneri2astr.301</text></g>
<g id="leaf-127" transform="rotate(431.06)"><text class="en" x="441">S.enterica str.CT18</text></g>
<g id="leaf-128" transform="rotate(432.82)"><text class="en" x="441">S. enterica Typhistr.LT2</text></g>
<g id="leaf-129" transform="rotate(434.58)"><text class="en" x="441">Enterobacter lignolyticus SCF1</text></g>
<g id="leaf-130" transform="rotate(436.34)"><text class="en" x="441">Pluralibacter gergoviae</text></g>
<g id="leaf-131" transform="rotate(438.1)"><text class="en" x="441">Kluyvera cryocrescens NBRC102467</text></g>
<g id="leaf-132" transform="rotate(439.86)"><text class="en" x="441">Kluyvera ascorbata ATCC33433</text></g>
<g id="leaf-133" transform="rotate(441.62)"><text class="en" x="441">Kluyvera intermedia</text></g>
<g id="leaf-134" transform="rotate(443.38)"><text class="en" x="441">Klebsiella sp.RIT-PI-d</text></g>
<g id="leaf-135" transform="rotate(445.14)"><text class="en" x="441">K. pneumoniae HS11286</text></g>
<g id="leaf-136" transform="rotate(446.9)"><text class="en" x="441">K. aerogenes KCTC2190</text></g>
<g id="leaf-137" transform="rotate(448.66)"><text class="en" x="441">K. oxytoca</text></g>
<g id="leaf-138" transform="rotate(270.42)"><text class="L en" x="-441">E. coli O104:H4 str. 2011C-3493</text></g>
<g id="leaf-139" transform="rotate(272.18)"><text class="L en" x="-441">E. coli O83:H1 str. NRG 857C</text></g>
<g id="leaf-140" transform="rotate(273.94)"><text class="L en" x="-441">E. coli IAI39</text></g>
<g id="leaf-141" transform="rotate(275.7)"><text class="L en" x="-441">E. coli UMN026</text></g>
<g id="leaf-142" transform="rotate(277.46)"><text class="L en" x="-441">E. coli str.K-12substr.MG1655</text></g>
<g id="leaf-143" transform="rotate(279.22)"><text class="L en" x="-441">E. coli O157:H7 str. Sakai</text></g>
<g id="leaf-144" transform="rotate(280.98)"><text class="L ps" x="-441">P. alcaligenes OT69</text></g>
<g id="leaf-145" transform="rotate(282.74)"><text class="L ps" x="-441">P. knackmussii B13</text></g>
<g id="leaf-146" transform="rotate(284.5)"><text class="L ps" x="-441">P. azotifigens DSM17556</text></g>
<g id="leaf-147" transform="rotate(286.26)"><text class="L ps" x="-441">P. resinovorans NBRC106553</text></g>
<g id="leaf-148" transform="rotate(288.02)"><text class="L ps" x="-441">P. japonica NBRC103040</text></g>
<g id="leaf-149" transform="rotate(289.78)"><text class="L ps" x="-441">P. fuscovaginae UPB0736</text></g>
<g id="leaf-150" transform="rotate(291.54)"><text class="L ps" x="-441">P. protegens CHA0</text></g>
<g id="leaf-151" transform="rotate(293.3)"><text class="L ps" x="-441">P. thermotolerans DSM14292</text></g>
<g id="leaf-152" transform="rotate(295.06)"><text class="L ps" x="-441">P. balearica DSM6083</text></g>
<g id="leaf-153" transform="rotate(296.82)"><text class="L ps" x="-441">Pseudomonas sp.StFLB209</text></g>
<g id="leaf-154" transform="rotate(298.58)"><text class="L ps" x="-441">Pseudomonas sp.S9</text></g>
<g id="leaf-155" transform="rotate(300.34)"><text class="L ps" x="-441">P. massiliensis</text></g>
<g id="leaf-156" transform="rotate(302.1)"><text class="L ps" x="-441">P. mendocinaymp</text></g>
<g id="leaf-157" transform="rotate(303.86)"><text class="L ps" x="-441">P. entomophila L48</text></g>
<g id="leaf-158" transform="rotate(305.62)"><text class="L ps" x="-441">P. lutea</text></g>
<g id="leaf-159" transform="rotate(307.38)"><text class="L ps" x="-441">P. alkylphenolica</text></g>
<g id="leaf-160" transform="rotate(309.14)"><text class="L ps" x="-441">P. aeruginosa PAO1</text></g>
<g id="leaf-161" transform="rotate(310.9)"><text class="L ps" x="-441">P. putida KT2440</text></g>
<g id="leaf-162" transform="rotate(312.66)"><text class="L ps" x="-441">P. cremoricolorata</text></g>
<g id="leaf-163" transform="rotate(314.42)"><text class="L ps" x="-441">P. oryzihabitans</text></g>
<g id="leaf-164" transform="rotate(316.18)"><text class="L ps" x="-441">P. stutzeri DSM10701</text></g>
<g id="leaf-165" transform="rotate(317.94)"><text class="L ps" x="-441">P. fragi</text></g>
<g id="leaf-166" transform="rotate(319.7)"><text class="L ps" x="-441">P. fluorescens F113</text></g>
<g id="leaf-167" transform="rotate(321.46)"><text class="L ps" x="-441">P. fluorescens SBW25</text></g>
<g id="leaf-168" transform="rotate(323.22)"><text class="L ps" x="-441">P. fluorescens Pf0-1</text></g>
<g id="leaf-169" transform="rotate(324.98)"><text class="L ps" x="-441">Moraxella osloensis</text></g>
<g id="leaf-170" transform="rotate(326.74)"><text class="L ps" x="-441">Psychrobacter sp. ENNN9 III</text></g>
<g id="leaf-171" transform="rotate(328.5)"><text class="L ps" x="-441">P. phenylpyruvicus DSM7000</text></g>
<g id="leaf-172" transform="rotate(330.26)"><text class="L ps" x="-441">Psychrobacter alimentarius</text></g>
<g id="leaf-173" transform="rotate(332.02)"><text class="L ps" x="-441">Acinetobacter sp. TTH0-4</text></g>
<g id="leaf-174" transform="rotate(333.78)"><text class="L ps" x="-441">Acinetobacter sp.HR7</text></g>
<g id="leaf-175" transform="rotate(335.54)"><text class="L ps" x="-441">A. nectaris CIP110549</text></g>
<g id="leaf-176" transform="rotate(337.3)"><text class="L ps" x="-441">A. harbinensis</text></g>
<g id="leaf-177" transform="rotate(339.06)"><text class="L ps" x="-441">A. brisouii CIP110357</text></g>
<g id="leaf-178" transform="rotate(340.82)"><text class="L ps" x="-441">A. indicus CIP110367</text></g>
<g id="leaf-179" transform="rotate(342.58)"><text class="L ps" x="-441">A. johnsonii XBB1</text></g>
<g id="leaf-180" transform="rotate(344.34)"><text class="L ps" x="-441">A. schindleri CIP107287</text></g>
<g id="leaf-181" transform="rotate(346.1)"><text class="L ps" x="-441">A. bohemicus ANC3994</text></g>
<g id="leaf-182" transform="rotate(347.86)"><text class="L ps" x="-441">Acinetobacter sp.NIPH298</text></g>
<g id="leaf-183" transform="rotate(349.62)"><text class="L ps" x="-441">A. soli NIPH2899</text></g>
<g id="leaf-184" transform="rotate(351.38)"><text class="L ps" x="-441">A. gyllenbergii NIPH230</text></g>
<g id="leaf-185" transform="rotate(353.14)"><text class="L ps" x="-441">A. beijerinckii CIP110307</text></g>
<g id="leaf-186" transform="rotate(354.9)"><text class="L ps" x="-441">A. venetianus VE-C3</text></g>
<g id="leaf-187" transform="rotate(356.66)"><text class="L ps" x="-441">A. towneri DSM14962</text></g>
<g id="leaf-188" transform="rotate(358.42)"><text class="L ps" x="-441">A. tandoii DSM14970</text></g>
<g id="leaf-189" transform="rotate(360.18)"><text class="L ps" x="-441">A. gerneri DSM14967</text></g>
<g id="leaf-190" transform="rotate(361.94)"><text class="L ps" x="-441">A. bouvetii DSM14964</text></g>
<g id="leaf-191" transform="rotate(363.7)"><text class="L ps" x="-441">A. ursingii DSM16037</text></g>
<g id="leaf-192" transform="rotate(365.46)"><text class="L ps" x="-441">A. radioresistens DSM6976</text></g>
<g id="leaf-193" transform="rotate(367.22)"><text class="L ps" x="-441">A. parvus DSM16617</text></g>
<g id="leaf-194" transform="rotate(368.98)"><text class="L ps" x="-441">A. lwoffii NCTC5866</text></g>
<g id="leaf-195" transform="rotate(370.74)"><text class="L ps" x="-441">A. bereziniae LMG1003</text></g>
<g id="leaf-196" transform="rotate(372.5)"><text class="L ps" x="-441">A. pittii PHEA-2</text></g>
<g id="leaf-197" transform="rotate(374.26)"><text class="L ps" x="-441">Acinetobacter sp.Ver3</text></g>
<g id="leaf-198" transform="rotate(376.02)"><text class="L ps" x="-441">A. rudis CIP110305</text></g>
<g id="leaf-199" transform="rotate(377.78)"><text class="L ps" x="-441">Acinetobacter baumannii</text></g>
</g>
<g id="tree-scale">
<text x="1613" y="329" font-size="25.5" font-weight="bold" fill="#707070" dominant-baseline="central">Tree scale: 1</text>
<path d="M1787 329H1818M1787 324V334M1818 324V334" stroke="#555" stroke-width="2" fill="none"/>
</g>
<g id="legend" class="lg">
<rect x="1600" y="395" width="360" height="885" fill="#fff" stroke="#e2e2e2" stroke-width="1.5"/>
<text x="1610" y="415" font-weight="bold">Colored ranges</text>
<line x1="1605" y1="442" x2="1945" y2="442" stroke="#888" stroke-width="1.5"/>
<rect x="1610" y="454" width="36" height="35" fill="#b3b5f2"/><text x="1665" y="471.5">Bacillales</text>
<rect x="1610" y="509.3" width="36" height="35" fill="#ffff66"/><text x="1665" y="526.8">Lactobacillales</text>
<rect x="1610" y="564.6" width="36" height="35" fill="#cdcffa"/><text x="1665" y="582.1">Pseudomonadales</text>
<rect x="1610" y="619.9" width="36" height="35" fill="#f8aa62"/><text x="1665" y="637.4">Enterobacteriales</text>
<rect x="1610" y="675.2" width="36" height="35" fill="#6fb67a"/><text x="1665" y="692.7">Gammaproteobacteria</text>
<rect x="1610" y="730.5" width="36" height="35" fill="#d3c5df"/><text x="1665" y="748">Betaproteobacteria</text>
<rect x="1610" y="785.8" width="36" height="35" fill="#ffc2c8"/><text x="1665" y="803.3">Alphaproteobacteria</text>
<rect x="1610" y="841.1" width="36" height="35" fill="#c082e6"/><text x="1665" y="858.6">Campylobacterales</text>
<rect x="1610" y="896.4" width="36" height="35" fill="#80fafa"/><text x="1665" y="913.9">Clostridiales</text>
<rect x="1610" y="951.7" width="36" height="35" fill="#cdfc84"/><text x="1665" y="969.2">Erysipelotrichales</text>
<rect x="1610" y="1007" width="36" height="35" fill="#dd82fb"/><text x="1665" y="1024.5">Micrococcales</text>
<rect x="1610" y="1062.3" width="36" height="35" fill="#c1bf8c"/><text x="1665" y="1079.8">Fusobacteriales</text>
<rect x="1610" y="1117.6" width="36" height="35" fill="#fd6262"/><text x="1665" y="1135.1">Bacteroidales</text>
<rect x="1610" y="1172.9" width="36" height="35" fill="#a484c4"/><text x="1665" y="1190.4">Actinomycetales</text>
<rect x="1610" y="1228.2" width="36" height="35" fill="#ffd6ac"/><text x="1665" y="1245.7">Corynebacteriales</text>
</g>
</svg>
